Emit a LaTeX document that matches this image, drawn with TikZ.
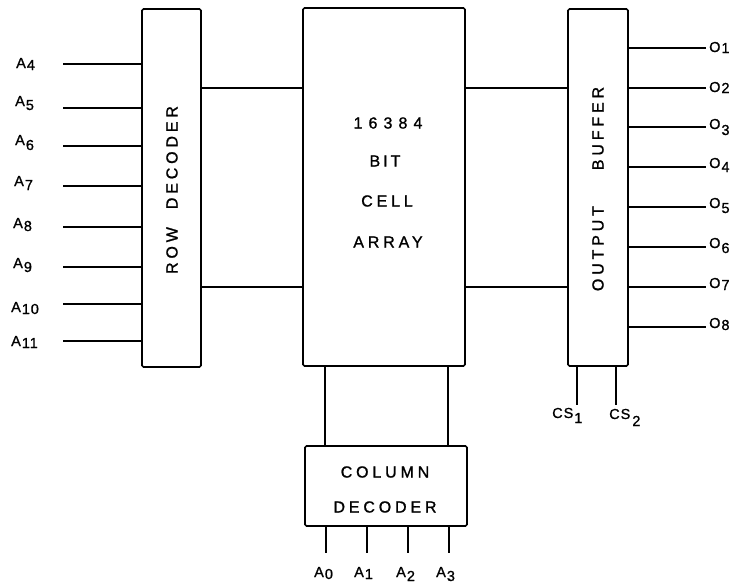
\documentclass[tikz,border=0pt]{standalone}
\usepackage{fontspec}
\setmainfont{Liberation Sans}
\newfontfamily\blkfont[LetterSpace=24,FakeBold=1.2]{Liberation Sans}
\newfontfamily\numfont[LetterSpace=38,FakeBold=1.2]{Liberation Sans}
\newfontfamily\pinfont[LetterSpace=6,FakeBold=1.0]{Liberation Sans}
\newcommand\lw[2][4]{\lower#1pt\hbox{#2}}
\begin{document}
\begin{tikzpicture}[x=1pt,y=-1pt,
  box/.style={draw, line width=1.6pt, rounded corners=1.5pt, inner sep=0pt},
  wire/.style={line width=1.6pt},
  blk/.style={font=\fontsize{16}{18}\blkfont, inner sep=0pt},
  pin/.style={font=\fontsize{14.5}{16}\pinfont, inner sep=0pt, anchor=base west}]
\useasboundingbox (0,0) rectangle (737,587);
\fill[white] (0,0) rectangle (737,587);

% boxes
\node[box, minimum width=59pt, minimum height=358pt] (rd) at (171.5,188) {};
\node[box, minimum width=162pt, minimum height=358pt] (ca) at (384,187) {};
\node[box, minimum width=60pt, minimum height=357pt] (ob) at (598,187.5) {};
\node[box, minimum width=162pt, minimum height=80pt] (cd) at (386,486) {};

% box texts
\node[blk, rotate=90] (trd) at (172,190) {ROW\hspace{18pt}DECODER};
\node[blk, rotate=90] (tob) at (598,189) {OUTPUT\hspace{36pt}BUFFER};
\node[blk, font=\fontsize{16}{18}\numfont] (t1) at (388,123) {16384};
\node[blk] (t2) at (385,161) {B\kern3pt I\kern3pt T};
\node[blk] (t3) at (387,201) {CELL};
\node[blk] (t4) at (388,242) {ARRAY};
\node[blk] (t5) at (385,472) {COLUMN};
\node[blk] (t6) at (385,507) {DECODER};

% internal connections
\coordinate (h1) at (0,88);
\coordinate (h2) at (0,287);
\draw[wire] (h1 -| rd.east) -- (h1 -| ca.west);
\draw[wire] (h2 -| rd.east) -- (h2 -| ca.west);
\draw[wire] (h1 -| ca.east) -- (h1 -| ob.west);
\draw[wire] (h2 -| ca.east) -- (h2 -| ob.west);
\coordinate (v1) at (325,0);
\coordinate (v2) at (448,0);
\draw[wire] (v1 |- ca.south) -- (v1 |- cd.north);
\draw[wire] (v2 |- ca.south) -- (v2 |- cd.north);

% row address inputs
\foreach \n/\y/\bx/\by/\lo in {4/64/16/68/2, 5/108/15/106/4, 6/146/15/145/5, 7/186/14/186/4,
  8/227/13/228/3, 9/267/13/268/4, 10/304/11/312/2, 11/341/11/346/2}{
  \coordinate (ia\n) at (63,\y);
  \draw[wire] (ia\n) -- (ia\n -| rd.west);
  \node[pin] (la\n) at (\bx,\by) {A\kern1pt\lw[\lo]{\n}};
}

% outputs
\foreach \n/\y/\by/\lo in {1/48/52/1, 2/88/92/1, 3/127/129/6, 4/167/168/4,
  5/207/208/5, 6/247/248/5, 7/287/288/2, 8/327/328/2}{
  \coordinate (oo\n) at (706,\y);
  \draw[wire] (oo\n -| ob.east) -- (oo\n);
  \node[pin] (lo\n) at (709,\by) {O\kern1pt\lw[\lo]{\n}};
}

% chip selects
\coordinate (cs1) at (577,405);
\coordinate (cs2) at (616,405);
\draw[wire] (cs1 |- ob.south) -- (cs1);
\draw[wire] (cs2 |- ob.south) -- (cs2);
\node[pin] (lcs1) at (552,418) {C\kern1pt S\kern1pt\lw[5]{1}};
\node[pin] (lcs2) at (609,419) {C\kern1pt S\kern2pt\lw[7]{2}};

% column address inputs
\foreach \n/\x/\lx/\lo in {0/326/314/2, 1/367/354/2, 2/408/396/4, 3/449/436/4}{
  \coordinate (ic\n) at (\x,553);
  \draw[wire] (ic\n |- cd.south) -- (ic\n);
  \node[pin] (lc\n) at (\lx,577) {A\kern1pt\lw[\lo]{\n}};
}
\end{tikzpicture}
\end{document}
